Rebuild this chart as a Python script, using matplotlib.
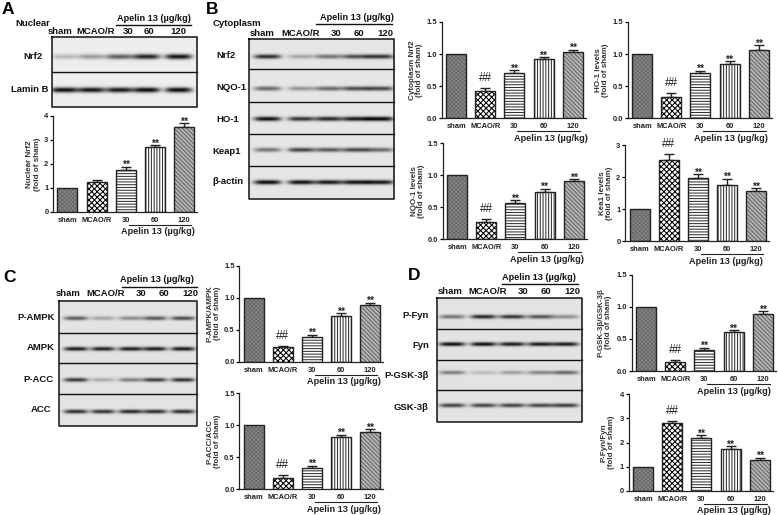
import matplotlib
matplotlib.use("Agg")
import matplotlib.pyplot as plt
import numpy as np

plt.rcParams['font.family'] = ['Liberation Sans', 'DejaVu Sans']
plt.rcParams['font.weight'] = 'bold'
plt.rcParams['hatch.linewidth'] = 0.75

W, H = 778, 515
groups = ['sham', 'MCAO/R', '30', '60', '120']
apelin = 'Apelin 13 (µg/kg)'

# bar values
nuclear_nrf2 = [1.0, 1.25, 1.75, 2.68, 3.53]
nuclear_nrf2_err = [0, 0.07, 0.12, 0.10, 0.15]
cyto_nrf2 = [1.0, 0.43, 0.71, 0.92, 1.04]
cyto_nrf2_err = [0, 0.04, 0.04, 0.03, 0.03]
ho1 = [1.0, 0.33, 0.70, 0.85, 1.07]
ho1_err = [0, 0.06, 0.04, 0.04, 0.07]
nqo1 = [1.0, 0.27, 0.56, 0.74, 0.91]
nqo1_err = [0, 0.04, 0.05, 0.05, 0.03]
keap1 = [1.0, 2.53, 1.97, 1.77, 1.57]
keap1_err = [0, 0.20, 0.12, 0.18, 0.09]
p_ampk = [1.0, 0.23, 0.39, 0.72, 0.89]
p_ampk_err = [0, 0.02, 0.03, 0.04, 0.03]
p_acc = [1.0, 0.18, 0.34, 0.81, 0.89]
p_acc_err = [0, 0.04, 0.03, 0.04, 0.05]
p_gsk = [1.0, 0.14, 0.33, 0.60, 0.89]
p_gsk_err = [0, 0.03, 0.03, 0.03, 0.04]
p_fyn = [1.0, 2.80, 2.20, 1.75, 1.28]
p_fyn_err = [0, 0.10, 0.10, 0.10, 0.08]

# band darkness per lane, estimated
blot_a = [[0.22, 0.35, 0.60, 0.85, 0.92],
          [0.95, 0.92, 0.90, 0.95, 0.95]]
blot_b = [[0.82, 0.28, 0.50, 0.68, 0.80],
          [0.55, 0.35, 0.55, 0.68, 0.70],
          [0.95, 0.80, 0.85, 0.92, 1.00],
          [0.50, 0.72, 0.62, 0.70, 0.55],
          [0.98, 0.95, 0.92, 0.95, 0.92]]
blot_c = [[0.60, 0.28, 0.40, 0.62, 0.68],
          [0.90, 0.88, 0.90, 0.90, 0.92],
          [0.78, 0.25, 0.45, 0.75, 0.80],
          [0.82, 0.80, 0.85, 0.82, 0.82]]
blot_d = [[0.50, 0.85, 0.80, 0.65, 0.38],
          [0.95, 0.95, 0.90, 0.90, 0.90],
          [0.45, 0.18, 0.30, 0.42, 0.55],
          [0.72, 0.72, 0.72, 0.70, 0.75]]

hatches = ['xxxxxxxx', 'xxxxxx', '------', '||||||', '\\\\\\\\\\\\\\\\']
hatch_cols = ['#6a6a6a', '#000000', '#333333', '#333333', '#666666']
face_cols = ['#8a8a8a', 'white', 'white', 'white', '#b5b5b5']
edge = '#222222'

fig = plt.figure(figsize=(W / 100, H / 100), dpi=100)
ov = fig.add_axes([0, 0, 1, 1])


def draw_blot(x0, x1, y0, y1, dividers, row_y, lane_x, dark, band_w=25, thick=2.0, bg=0.90):
    xs = np.arange(x0, x1, 0.5)
    ys = np.arange(y0, y1, 0.5)
    xx, yy = np.meshgrid(xs, ys)
    img = np.full(xx.shape, bg)
    for r, yc in enumerate(row_y):
        for l, xc in enumerate(lane_x):
            prof = np.exp(-((xx - xc) / (band_w / 2)) ** 4) * np.exp(-((yy - yc) / thick) ** 2)
            img -= dark[r][l] * bg * prof
    ov.imshow(np.clip(img, 0, 1), extent=[x0, x1, y1, y0], cmap='gray', vmin=0, vmax=1,
              aspect='auto', interpolation='bilinear', zorder=1)
    ov.plot([x0, x1, x1, x0, x0], [y0, y0, y1, y1, y0], color='#111111', lw=1.1, zorder=2)
    for d in dividers:
        ov.plot([x0, x1], [d, d], color='#111111', lw=1.0, zorder=2)


def blot_header(label_y, label_x, title_x, title_y, line_y, line_x0, line_x1):
    for g, x in zip(groups, label_x):
        ov.text(x, label_y, g, ha='center', va='center', fontsize=6.8, color='#111111')
    ov.text(title_x, title_y, apelin, ha='center', va='center', fontsize=6.6, color='#111111')
    ov.plot([line_x0, line_x1], [line_y, line_y], color='#111111', lw=1.0)


def bar_panel(spine, y0, ytop, values, errs, top, ticks, lines, marks, ylabel_dx, title_dx=104):
    ax = fig.add_axes([spine / W, 1 - y0 / H, 144 / W, (y0 - ytop) / H])
    ax.patch.set_alpha(0)
    pos = np.arange(5) * 29.1
    for i in range(5):
        ax.bar(pos[i], values[i], width=20, facecolor=face_cols[i], edgecolor=hatch_cols[i],
               hatch=hatches[i], linewidth=0, zorder=2)
        ax.bar(pos[i], values[i], width=20, fill=False, edgecolor=edge, linewidth=1.0, zorder=3)
        if errs[i] > 0:
            ax.errorbar(pos[i], values[i], yerr=[[0], [errs[i]]], color=edge, capsize=3.6,
                        elinewidth=1.0, capthick=1.0, zorder=1)
            ax.annotate(marks[i], (pos[i], values[i] + errs[i]), xytext=(0, 1.2 if marks[i] == '**' else 3.0),
                        textcoords='offset points', ha='center', va='bottom' if marks[i] == '##' else 'center',
                        fontsize=8.5 if marks[i] == '##' else 7.5,
                        fontweight='normal' if marks[i] == '##' else 'bold', color='#222222')
    ax.set_xlim(-14.5, 129.5)
    ax.set_ylim(0, top)
    ax.set_yticks(ticks)
    ax.set_yticklabels(lines, fontsize=5.4, color='#222222')
    ax.set_xticks(pos)
    ax.set_xticklabels(groups, fontsize=5.4, color='#222222')
    ax.tick_params(axis='y', length=2.5, width=0.9, pad=0.8)
    ax.tick_params(axis='x', length=0, pad=3.5)
    for s in ['top', 'right']:
        ax.spines[s].set_visible(False)
    for s in ['left', 'bottom']:
        ax.spines[s].set_linewidth(0.9)
        ax.spines[s].set_color(edge)
    ov.text(spine + ylabel_dx, (y0 + ytop) / 2, ylabel, ha='center', va='center', rotation=90,
            fontsize=5.8, color='#333333', linespacing=1.05)
    # treatment line and title under the axis
    bx = spine + 14.5 + pos
    ov.plot([bx[2] + 3, bx[4] + 7], [y0 + 13, y0 + 13], color='#222222', lw=0.8)
    ov.text(spine + title_dx, y0 + 20, apelin, ha='center', va='center', fontsize=6.6, color='#222222')


two_y = [0, 1, 2, 3, 4]
two_l = ['0', '1', '2', '3', '4']
one5_y = [0, 0.5, 1.0, 1.5]
one5_l = ['0.0', '0.5', '1.0', '1.5']
three_y = [0, 1, 2, 3]
three_l = ['0', '1', '2', '3']
hash_stars = ['', '##', '**', '**', '**']
ns_stars = ['', '', '**', '**', '**']

# panel A
draw_blot(51.7, 197.3, 37.3, 107.3, [72], [56.7, 90], [64, 91, 119, 146, 178], blot_a, band_w=27, thick=2.6, bg=0.93)
blot_header(32, [60, 96, 128, 149, 178], 153.5, 18.3, 25, 116, 191)
ov.text(33, 24, 'Nuclear', ha='center', va='center', fontsize=6.8, color='#111111')
ov.text(32.7, 56.7, 'Nrf2', ha='center', va='center', fontsize=6.8, color='#111111')
ov.text(30, 89, 'Lamin B', ha='center', va='center', fontsize=6.8, color='#111111')

# panel B
draw_blot(248.7, 394, 38.7, 198.7, [69.3, 102, 134, 166], [56, 88, 118.3, 149.3, 181.7],
          [267, 300.7, 328, 355, 379], blot_b, band_w=27, thick=2.2, bg=0.90)
blot_header(33, [262, 300.7, 335.7, 359, 385], 356.7, 17, 24, 316, 391.7)
ov.text(237, 24, 'Cytoplasm', ha='center', va='center', fontsize=6.8, color='#111111')
for name, x, y in zip(['Nrf2', 'NQO-1', 'HO-1', 'Keap1', 'β-actin'],
                      [216.7, 216.7, 216.7, 212.7, 212.7], [56, 88, 119, 152, 181]):
    ov.text(x, y, name, ha='left', va='center', fontsize=6.8, color='#111111')

# panel C
draw_blot(59.3, 197.3, 300.7, 425.7, [332.7, 363.3, 394], [317.7, 348.3, 379.3, 411],
          [76, 103, 130.7, 155, 183], blot_c, band_w=24, thick=2.0, bg=0.89)
blot_header(294, [67.7, 106, 140.7, 164, 190], 157, 279, 287, 121.7, 197)
for name, x, y in zip(['P-AMPK', 'AMPK', 'P-ACC', 'ACC'], [35.7, 40.7, 38, 41.3], [317.7, 348, 379.5, 410]):
    ov.text(x, y, name, ha='center', va='center', fontsize=6.8, color='#111111')

# panel D
draw_blot(436.7, 582.3, 298.3, 421.7, [329.3, 360, 390.3], [316.7, 344, 372.3, 405],
          [451.7, 483, 511.7, 540, 565], blot_d, band_w=26, thick=2.0, bg=0.89)
blot_header(291, [450, 488, 522.7, 546, 572], 539, 277, 284.3, 501.7, 578)
for name, y in zip(['P-Fyn', 'Fyn', 'P-GSK-3β', 'GSK-3β'], [316, 346, 375, 407]):
    ov.text(429, y, name, ha='right', va='center', fontsize=6.8, color='#111111')

for letter, x, y in zip('ABCD', [7.5, 212, 10, 414], [9.5, 9, 278, 276]):
    ov.text(x, y, letter, ha='center', va='center', fontsize=12.5, color='black')

ylabel = 'Nuclear Nrf2\n(fold of sham)'
bar_panel(53, 212, 115.7, nuclear_nrf2, nuclear_nrf2_err, 4, two_y, two_l, ns_stars, -19.5, title_dx=105)
ylabel = 'Cytoplasm Nrf2\n(fold of sham)'
bar_panel(441.7, 118.3, 22, cyto_nrf2, cyto_nrf2_err, 1.5, one5_y, one5_l, hash_stars, -25.7, title_dx=109)
ylabel = 'HO-1 levels\n(fold of sham)'
bar_panel(627.7, 118.3, 22, ho1, ho1_err, 1.5, one5_y, one5_l, hash_stars, -25.5, title_dx=103)
ylabel = 'NQO-1 levels\n(fold of sham)'
bar_panel(442.7, 239.3, 143.3, nqo1, nqo1_err, 1.5, one5_y, one5_l, hash_stars, -25, title_dx=104)
ylabel = 'Kea1 levels\n(fold of sham)'
bar_panel(625, 241.3, 145.3, keap1, keap1_err, 3, three_y, three_l, hash_stars, -19, title_dx=101)
ylabel = 'P-AMPK/AMPK\n(fold of sham)'
bar_panel(239.3, 362, 265.5, p_ampk, p_ampk_err, 1.5, one5_y, one5_l, hash_stars, -25.6, title_dx=105)
ylabel = 'P-ACC/ACC\n(fold of sham)'
bar_panel(239.3, 489.3, 393.3, p_acc, p_acc_err, 1.5, one5_y, one5_l, hash_stars, -25.6, title_dx=105)
ylabel = 'P-GSK-3β/GSK-3β\n(fold of sham)'
bar_panel(631.7, 371, 274.5, p_gsk, p_gsk_err, 1.5, one5_y, one5_l, hash_stars, -26.7, title_dx=102)
ylabel = 'P-Fyn/Fyn\n(fold of sham)'
bar_panel(628.7, 490.7, 394.3, p_fyn, p_fyn_err, 4, two_y, two_l, hash_stars, -20.7, title_dx=105)

ov.set_xlim(0, W)
ov.set_ylim(H, 0)
ov.axis('off')
fig.savefig('out.png', dpi=100)
